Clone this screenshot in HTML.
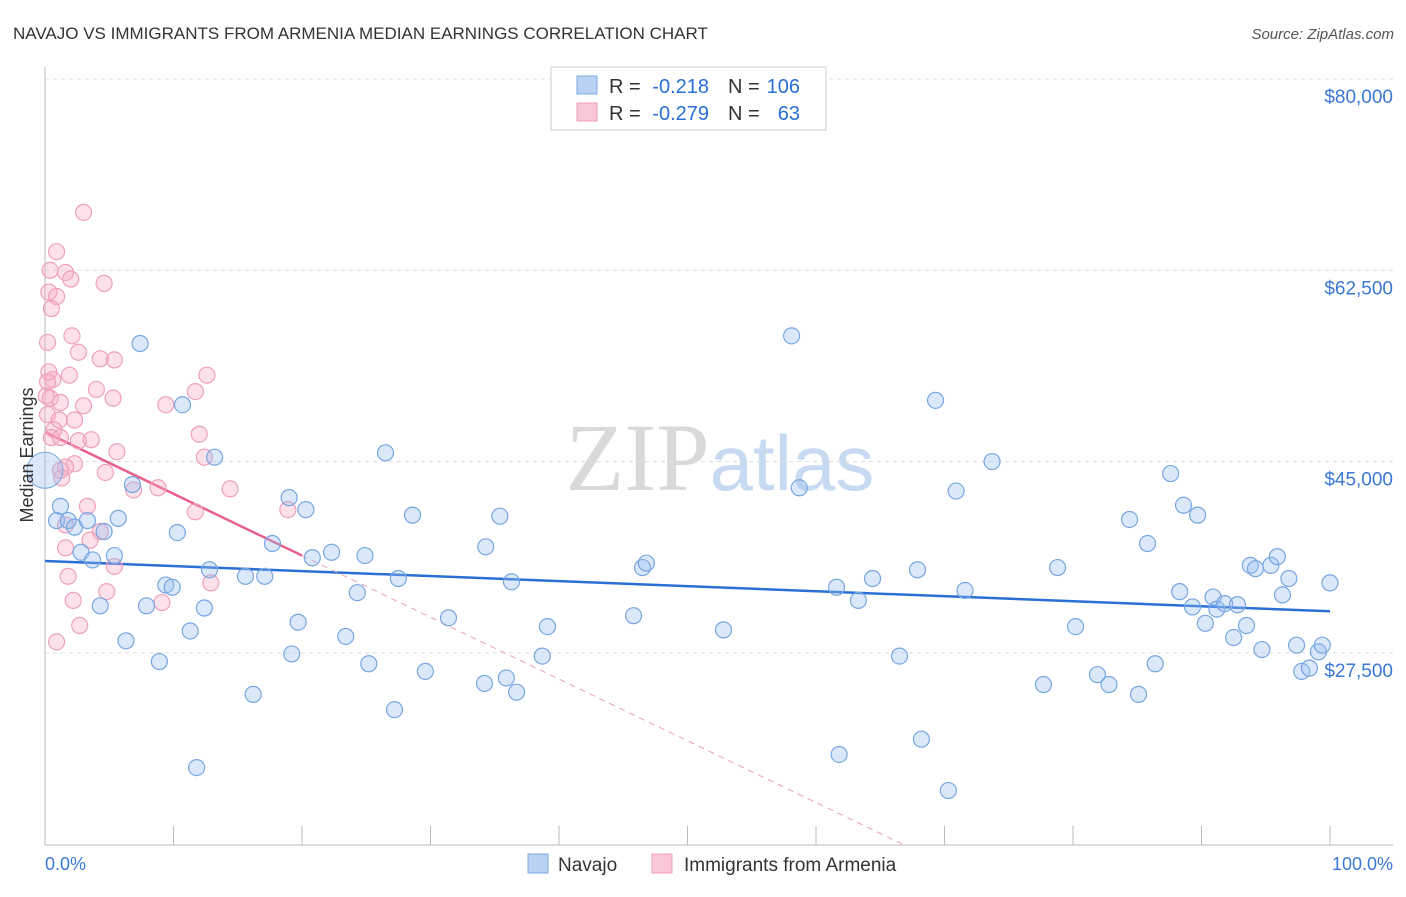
<!DOCTYPE html>
<html><head><meta charset="utf-8"><style>
body{margin:0;background:#fff;font-family:"Liberation Sans",sans-serif;}
svg text{font-family:"Liberation Sans",sans-serif;}
</style></head><body>
<svg id="chart" width="1406" height="892" xmlns="http://www.w3.org/2000/svg">
<text x="13" y="39" font-size="17" fill="#333">NAVAJO VS IMMIGRANTS FROM ARMENIA MEDIAN EARNINGS CORRELATION CHART</text>
<text x="1394" y="39" font-size="15" fill="#555" text-anchor="end" font-style="italic">Source: ZipAtlas.com</text>
<text x="720" y="490" font-size="96" text-anchor="middle"><tspan fill="#d9d9d9" font-family="Liberation Serif">ZIP</tspan><tspan fill="#c8daf2" font-size="78">atlas</tspan></text>
<g id="grid"></g>
<g id="axes"></g>
<g id="trends"></g>
<g id="points"></g>
<text transform="translate(33,455) rotate(-90)" font-size="18" fill="#333" text-anchor="middle">Median Earnings</text>
<text x="45" y="870" font-size="18" fill="#3a78d4">0.0%</text>
<text x="1393" y="870" font-size="18" fill="#3a78d4" text-anchor="end">100.0%</text>
<g>
<rect x="551" y="67" width="275" height="63" fill="#fff" stroke="#ccc"/>
<rect x="577" y="76" width="20" height="18" fill="#b9d2f3" stroke="#7aa8e0"/>
<rect x="577" y="103" width="20" height="18" fill="#f9c7d6" stroke="#f0a0b8"/>
<text x="609" y="93" font-size="20" fill="#333">R =</text>
<text x="709" y="93" font-size="20" fill="#2a6fd6" text-anchor="end">-0.218</text>
<text x="728" y="93" font-size="20" fill="#333">N =</text>
<text x="800" y="93" font-size="20" fill="#2a6fd6" text-anchor="end">106</text>
<text x="609" y="120" font-size="20" fill="#333">R =</text>
<text x="709" y="120" font-size="20" fill="#2a6fd6" text-anchor="end">-0.279</text>
<text x="728" y="120" font-size="20" fill="#333">N =</text>
<text x="800" y="120" font-size="20" fill="#2a6fd6" text-anchor="end">63</text>
</g>
<g>
<rect x="528" y="854" width="20" height="19" fill="#b9d2f3" stroke="#7aa8e0"/>
<text x="558" y="871" font-size="19" fill="#333">Navajo</text>
<rect x="652" y="854" width="20" height="19" fill="#f9c7d6" stroke="#f0a0b8"/>
<text x="684" y="871" font-size="19" fill="#333">Immigrants from Armenia</text>
</g>
</svg>
<script>
const yTicks=[80000,62500,45000,27500];
const yTickLabels=["$80,000","$62,500","$45,000","$27,500"];
const xTicks=[0,10,20,30,40,50,60,70,80,90,100];
const navajoX=[7.4,10.7,13.2,6.8,1.2,0.9,1.8,2.3,3.3,5.7,4.6,2.8,3.7,5.4,10.3,12.8,9.4,9.9,7.9,4.3,12.4,6.3,8.9,11.3,15.6,17.1,17.7,19.0,20.3,20.8,22.3,24.9,24.3,19.7,19.2,23.4,25.2,16.2,11.8,27.2,26.5,28.6,27.5,29.6,31.4,34.3,35.4,36.3,34.2,35.9,36.7,38.7,39.1,45.8,46.5,46.8,52.8,58.1,58.7,61.6,64.4,63.3,66.5,61.8,68.2,67.9,69.3,70.9,71.6,73.7,70.3,78.8,80.2,77.7,81.9,82.8,85.1,84.4,85.8,86.4,87.6,88.6,89.7,88.3,89.3,90.3,90.9,91.2,91.8,92.8,92.5,93.5,93.8,94.2,95.4,95.9,96.3,96.8,94.7,97.4,97.8,98.4,99.1,99.4,100];
const navajoY=[55.8,50.2,45.4,42.9,40.9,39.6,39.6,39.0,39.6,39.8,38.6,36.7,36.0,36.4,38.5,35.1,33.7,33.5,31.8,31.8,31.6,28.6,26.7,29.5,34.5,34.5,37.5,41.7,40.6,36.2,36.7,36.4,33.0,30.3,27.4,29.0,26.5,23.7,17.0,22.3,45.8,40.1,34.3,25.8,30.7,37.2,40.0,34.0,24.7,25.2,23.9,27.2,29.9,30.9,35.3,35.7,29.6,56.5,42.6,33.5,34.3,32.3,27.2,18.2,19.6,35.1,50.6,42.3,33.2,45.0,14.9,35.3,29.9,24.6,25.5,24.6,23.7,39.7,37.5,26.5,43.9,41.0,40.1,33.1,31.7,30.2,32.6,31.5,32.0,31.9,28.9,30.0,35.5,35.2,35.5,36.3,32.8,34.3,27.8,28.2,25.8,26.1,27.6,28.2,33.9];
const armeniaX=[3.0,0.9,0.4,1.6,2.0,4.6,0.3,0.9,0.5,2.1,0.2,2.6,4.3,5.4,12.6,1.9,0.6,0.2,4.0,11.7,5.3,9.4,3.0,0.4,1.2,0.2,2.3,1.1,0.7,0.5,12.0,1.2,3.6,2.6,5.6,12.4,2.3,1.6,1.2,4.7,14.4,8.8,6.9,1.3,3.3,11.7,18.9,1.6,4.3,3.5,1.6,5.4,1.8,12.9,4.8,2.2,9.1,2.7,0.9,0.3,0.1];
const armeniaY=[67.8,64.2,62.5,62.3,61.7,61.3,60.5,60.1,59.0,56.5,55.9,55.0,54.4,54.3,52.9,52.9,52.5,52.3,51.6,51.4,50.8,50.2,50.1,50.8,50.4,49.3,48.8,48.8,47.9,47.2,47.5,47.2,47.0,46.9,45.9,45.4,44.8,44.5,44.2,44.0,42.5,42.6,42.4,43.5,40.9,40.4,40.6,39.2,38.6,37.8,37.1,35.4,34.5,33.9,33.1,32.3,32.1,30.0,28.5,53.2,51.0];
const navajoTrend=[35.9,31.3];
const armeniaTrend=[47.7,-0.565];
const NS="http://www.w3.org/2000/svg";
const X=p=>45+p*12.85;
const Y=v=>79+(80-v)*10.93;
function mk(tag,attrs,parent){const e=document.createElementNS(NS,tag);for(const k in attrs)e.setAttribute(k,attrs[k]);parent.appendChild(e);return e;}
const grid=document.getElementById('grid'),axes=document.getElementById('axes'),trends=document.getElementById('trends'),pts=document.getElementById('points');
yTicks.forEach((t,i)=>{
 const y=Y(t/1000);
 const l=mk('line',{x1:45,x2:1393,y1:y,y2:y,stroke:'#ddd','stroke-dasharray':'4,4'},grid);
 
 
 const tx=mk('text',{x:1393,y:y+24,'font-size':19,fill:'#3a78d4','text-anchor':'end'},grid);
 tx.textContent=yTickLabels[i];
 
 
});
mk('line',{x1:45,x2:45,y1:67,y2:845,stroke:'#bbb'},axes);
mk('line',{x1:45,x2:1393,y1:845,y2:845,stroke:'#bbb'},axes);
xTicks.forEach(t=>{
 const l=mk('line',{x1:X(t),x2:X(t),y1:826,y2:845,stroke:'#bbb'},axes);
 
 
});
function dot(x,y,fill,stroke,r,name){
 const c=mk('circle',{cx:X(x),cy:Y(y),r:r,fill:fill,stroke:stroke,'stroke-width':1.2},pts);
 
 
}
armeniaX.forEach((x,i)=>dot(x,armeniaY[i],'rgba(246,170,195,0.35)','#eea0ba',8,'armenia-point'));
navajoX.forEach((x,i)=>dot(x,navajoY[i],'rgba(150,190,240,0.35)','#78a6e0',8,'navajo-point'));
const big=mk('circle',{cx:X(0),cy:Y(44.2),r:18,fill:'rgba(150,190,240,0.35)',stroke:'#78a6e0'},pts);


const bl=mk('line',{x1:X(0),y1:Y(navajoTrend[0]),x2:X(100),y2:Y(navajoTrend[1]),stroke:'#2a6fd6','stroke-width':2.5},trends);


const pe=(9.9-armeniaTrend[0])/armeniaTrend[1];
const ps=mk('line',{x1:X(0),y1:Y(armeniaTrend[0]),x2:X(20),y2:Y(armeniaTrend[0]+armeniaTrend[1]*20),stroke:'#e8608c','stroke-width':2.5},trends);


const pd=mk('line',{x1:X(20),y1:Y(armeniaTrend[0]+armeniaTrend[1]*20),x2:X(pe),y2:Y(9.9),stroke:'#eaa0b8','stroke-width':1,'stroke-dasharray':'6,5'},trends);


</script>
</body></html>
